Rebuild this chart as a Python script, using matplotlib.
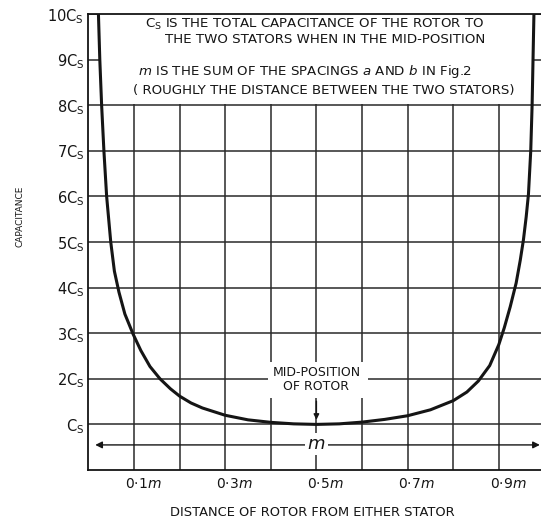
import matplotlib.pyplot as plt
from matplotlib.patches import Rectangle

# curve (distance as fraction of m, capacitance in Cs)
dist = [0.022, 0.025, 0.029, 0.034, 0.040, 0.049, 0.057, 0.067, 0.080, 0.098,
        0.115, 0.135, 0.157, 0.180, 0.200, 0.225, 0.250, 0.300, 0.350, 0.400,
        0.450, 0.500, 0.550, 0.600, 0.650, 0.700, 0.750, 0.800, 0.830, 0.855,
        0.880, 0.900, 0.912, 0.925, 0.938, 0.947, 0.954, 0.960, 0.965, 0.970,
        0.973, 0.975, 0.977]
cap = [10.0, 9.0, 8.0, 7.0, 6.0, 5.0, 4.36, 3.9, 3.42, 2.98,
       2.62, 2.27, 2.0, 1.78, 1.62, 1.47, 1.36, 1.20, 1.10, 1.045,
       1.012, 1.0, 1.012, 1.05, 1.11, 1.19, 1.32, 1.52, 1.71, 1.95,
       2.29, 2.75, 3.12, 3.58, 4.1, 4.6, 5.05, 5.55, 6.05, 7.0,
       8.0, 9.0, 10.0]

x_grid = [0.1, 0.2, 0.3, 0.4, 0.5, 0.6, 0.7, 0.8, 0.9]
y_ticks = [1, 2, 3, 4, 5, 6, 7, 8, 9, 10]
y_labels = ['C$_\\mathrm{S}$'] + [f'{v}C$_\\mathrm{{S}}$' for v in y_ticks[1:]]
x_label_pos = [0.1, 0.3, 0.5, 0.7, 0.9]
x_labels = ['0·1$m$', '0·3$m$', '0·5$m$', '0·7$m$', '0·9$m$']

note_lines = [
    'C$_\\mathrm{S}$ IS THE TOTAL CAPACITANCE OF THE ROTOR TO',
    'THE TWO STATORS WHEN IN THE MID-POSITION',
    '$m$ IS THE SUM OF THE SPACINGS $a$ AND $b$ IN Fig.2',
    '( ROUGHLY THE DISTANCE BETWEEN THE TWO STATORS)',
]
note_x = [0.495, 0.519, 0.475, 0.516]
note_y = [9.76, 9.43, 8.74, 8.33]

ink = '#151515'

fig = plt.figure(figsize=(5.41, 5.20), dpi=100)
ax = fig.add_axes([88.4 / 541, 50 / 520, (541 - 88.4) / 541, 456 / 520])
ax.set_xlim(0, 0.9925)
ax.set_ylim(0, 10)

# grid
ax.set_xticks(x_grid)
ax.set_xticklabels([])
ax.set_yticks(y_ticks)
ax.set_yticklabels(y_labels, fontsize=10.5, color=ink)
ax.tick_params(length=0, pad=3)
ax.grid(True, color='#2a2a2a', lw=1.1, zorder=1)
ax.set_axisbelow(True)
for side in ['left', 'bottom', 'top']:
    ax.spines[side].set_color(ink)
    ax.spines[side].set_linewidth(1.3)
ax.spines['right'].set_visible(False)

# white panels over the grid for the notes and the mid-position label
ax.add_patch(Rectangle((0.023, 8.03), 0.953, 1.97, facecolor='white',
                       edgecolor='none', zorder=2))
ax.add_patch(Rectangle((0.393, 1.57), 0.22, 0.8, facecolor='white',
                       edgecolor='none', zorder=2))

ax.plot(dist, cap, color=ink, lw=2.2, zorder=5, solid_capstyle='round',
        solid_joinstyle='round')

for txt, tx, ty in zip(note_lines, note_x, note_y):
    ax.text(tx, ty, txt, ha='center', va='center', fontsize=9.6, color=ink, zorder=6)

ax.text(0.5, 1.98, 'MID-POSITION\nOF ROTOR', ha='center', va='center',
        fontsize=9, color=ink, linespacing=1.1, zorder=6)
ax.annotate('', xy=(0.5, 1.04), xytext=(0.5, 1.57),
            arrowprops=dict(arrowstyle='-|>', color=ink, lw=1.0,
                            mutation_scale=8), zorder=6)

# span arrow marked m
ax.annotate('', xy=(0.015, 0.55), xytext=(0.99, 0.55),
            arrowprops=dict(arrowstyle='<|-|>', color=ink, lw=1.0,
                            mutation_scale=10, shrinkA=0, shrinkB=0), zorder=4)
ax.text(0.5, 0.57, '$m$', ha='center', va='center', fontsize=13, color=ink,
        zorder=6, bbox=dict(facecolor='white', edgecolor='none', pad=1.5))

for xp, lab in zip(x_label_pos, x_labels):
    ax.text(xp + 0.02, -0.3, lab, ha='center', va='center', fontsize=10,
            color=ink, clip_on=False)

fig.text(312 / 541, 1 - 513 / 520, 'DISTANCE OF ROTOR FROM EITHER STATOR',
         ha='center', va='center', fontsize=9.4, color=ink)
fig.text(20 / 541, 1 - 216 / 520, 'CAPACITANCE', rotation=90,
         ha='center', va='center', fontsize=6.5, color=ink)

fig.savefig('out.png', dpi=100, facecolor='white')
